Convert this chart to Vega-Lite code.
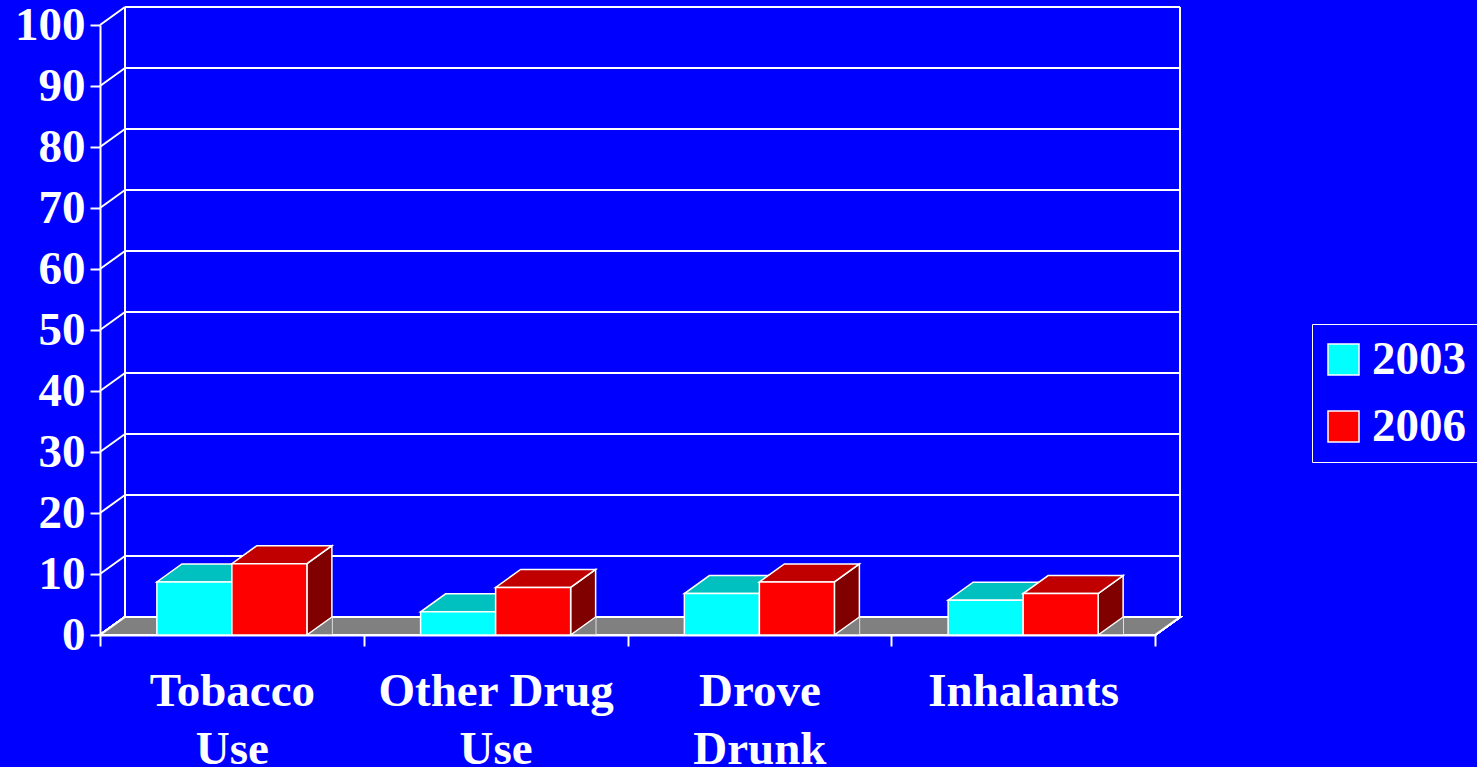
{
  "$schema": "https://vega.github.io/schema/vega-lite/v6.json",
  "width": 1055,
  "height": 610,
  "autosize": {"type": "none"},
  "padding": {"left": 100, "top": 25, "right": 322, "bottom": 132},
  "background": "#0000FF",
  "config": {
    "view": {"stroke": null},
    "axis": {"grid": false, "title": null, "domainColor": "white", "domainWidth": 2, "tickColor": "white", "tickWidth": 2, "labelColor": "white", "labelFont": "Liberation Serif", "labelFontWeight": "bold", "labelFontSize": 47, "labelLimit": 0}
  },
  "datasets": {
    "bars": [
      {"category": "Tobacco Use", "year": "2003", "value": 8.7},
      {"category": "Tobacco Use", "year": "2006", "value": 11.7},
      {"category": "Other Drug Use", "year": "2003", "value": 3.8},
      {"category": "Other Drug Use", "year": "2006", "value": 7.8},
      {"category": "Drove Drunk", "year": "2003", "value": 6.8},
      {"category": "Drove Drunk", "year": "2006", "value": 8.7},
      {"category": "Inhalants", "year": "2003", "value": 5.7},
      {"category": "Inhalants", "year": "2006", "value": 6.8}
    ],
    "ticks": [
      {"v": 0}, {"v": 10}, {"v": 20}, {"v": 30}, {"v": 40}, {"v": 50},
      {"v": 60}, {"v": 70}, {"v": 80}, {"v": 90}, {"v": 100}
    ]
  },
  "layer": [
    {
      "data": {"name": "ticks"},
      "layer": [
        {
          "mark": {"type": "rule", "color": "white", "strokeWidth": 2, "xOffset": 25, "x2Offset": 25, "yOffset": -18},
          "encoding": {
            "x": {"datum": 0, "type": "quantitative", "scale": {"domain": [0, 1]}, "axis": null},
            "x2": {"datum": 1},
            "y": {
              "field": "v",
              "type": "quantitative",
              "scale": {"domain": [0, 100]},
              "axis": {"values": [0, 10, 20, 30, 40, 50, 60, 70, 80, 90, 100], "tickSize": 10, "labelPadding": 5, "labelBaseline": "middle"}
            }
          }
        },
        {
          "mark": {"type": "point", "shape": "M0,0L25,-18", "size": 4, "filled": false, "stroke": "white", "strokeWidth": 2, "opacity": 1},
          "encoding": {
            "x": {"datum": 0, "type": "quantitative", "scale": {"domain": [0, 1]}, "axis": null},
            "y": {"field": "v", "type": "quantitative"}
          }
        },
        {
          "mark": {"type": "rule", "color": "white", "strokeWidth": 2, "xOffset": 25, "yOffset": -18, "y2Offset": -18},
          "encoding": {
            "x": {"datum": 0, "type": "quantitative", "scale": {"domain": [0, 1]}, "axis": null},
            "y": {"datum": 0, "type": "quantitative"},
            "y2": {"datum": 100}
          }
        },
        {
          "mark": {"type": "rule", "color": "white", "strokeWidth": 2, "xOffset": 25, "yOffset": -18, "y2Offset": -18},
          "encoding": {
            "x": {"datum": 1, "type": "quantitative", "scale": {"domain": [0, 1]}, "axis": null},
            "y": {"datum": 0, "type": "quantitative"},
            "y2": {"datum": 100}
          }
        },
        {
          "mark": {"type": "point", "shape": "M0,0L1055,0L1080,-18L25,-18Z", "size": 4, "filled": true, "fill": "#808080", "stroke": "white", "strokeWidth": 2, "opacity": 1},
          "encoding": {
            "x": {"datum": 0, "type": "quantitative", "scale": {"domain": [0, 1]}, "axis": null},
            "y": {"datum": 0, "type": "quantitative"}
          }
        }
      ]
    },
    {
      "data": {"name": "bars"},
      "encoding": {
        "x": {
          "field": "category",
          "type": "nominal",
          "sort": ["Tobacco Use", "Other Drug Use", "Drove Drunk", "Inhalants"],
          "scale": {"paddingInner": 0, "paddingOuter": 0},
          "axis": {
            "tickBand": "extent",
            "tickSize": 11,
            "labelPadding": 22,
            "labelAngle": 0,
            "labelLineHeight": 58,
            "labelBaseline": "top",
            "labelExpr": "datum.label == 'Tobacco Use' ? ['Tobacco', 'Use'] : datum.label == 'Other Drug Use' ? ['Other Drug', 'Use'] : datum.label == 'Drove Drunk' ? ['Drove', 'Drunk'] : datum.label"
          }
        },
        "xOffset": {"field": "year", "type": "nominal", "scale": {"paddingInner": 0, "paddingOuter": 0.758}},
        "y": {"field": "value", "type": "quantitative"}
      },
      "layer": [
        {
          "mark": {"type": "point", "shape": "M37.5,0L62.5,-18L62.5,800L37.5,800Z", "size": 4, "filled": true, "clip": true, "stroke": "white", "strokeWidth": 1.5, "opacity": 1},
          "encoding": {
            "fill": {"condition": {"test": "datum.year == '2003'", "value": "#008080"}, "value": "#800000"}
          }
        },
        {
          "mark": {"type": "point", "shape": "M62.5,0L37.5,0L62.5,-18", "size": 4, "filled": true, "fill": "#808080", "stroke": "white", "strokeWidth": 1.5, "opacity": 1},
          "encoding": {
            "y": {"datum": 0, "type": "quantitative"}
          }
        },
        {
          "mark": {"type": "point", "shape": "M-37.5,0L37.5,0L62.5,-18L-12.5,-18Z", "size": 4, "filled": true, "stroke": "white", "strokeWidth": 1.5, "opacity": 1},
          "encoding": {
            "fill": {"condition": {"test": "datum.year == '2003'", "value": "#00C0C0"}, "value": "#C00000"}
          }
        },
        {
          "mark": {"type": "bar", "stroke": "white", "strokeWidth": 1.5},
          "encoding": {
            "color": {
              "field": "year",
              "type": "nominal",
              "scale": {"domain": ["2003", "2006"], "range": ["#00FFFF", "#FF0000"]},
              "legend": {
                "title": null,
                "orient": "none",
                "legendX": 1212,
                "legendY": 299,
                "padding": 12,
                "fillColor": "#0000FF",
                "strokeColor": "white",
                "symbolType": "square",
                "symbolSize": 961,
                "symbolOffset": -4,
                "symbolStrokeColor": "white",
                "symbolStrokeWidth": 1.5,
                "symbolOpacity": 1,
                "labelFont": "Liberation Serif",
                "labelFontWeight": "bold",
                "labelFontSize": 47,
                "labelColor": "white",
                "labelOffset": 5,
                "labelLimit": 0,
                "rowPadding": 19
              }
            }
          }
        }
      ]
    }
  ],
  "resolve": {"scale": {"x": "independent"}, "axis": {"x": "independent"}}
}
